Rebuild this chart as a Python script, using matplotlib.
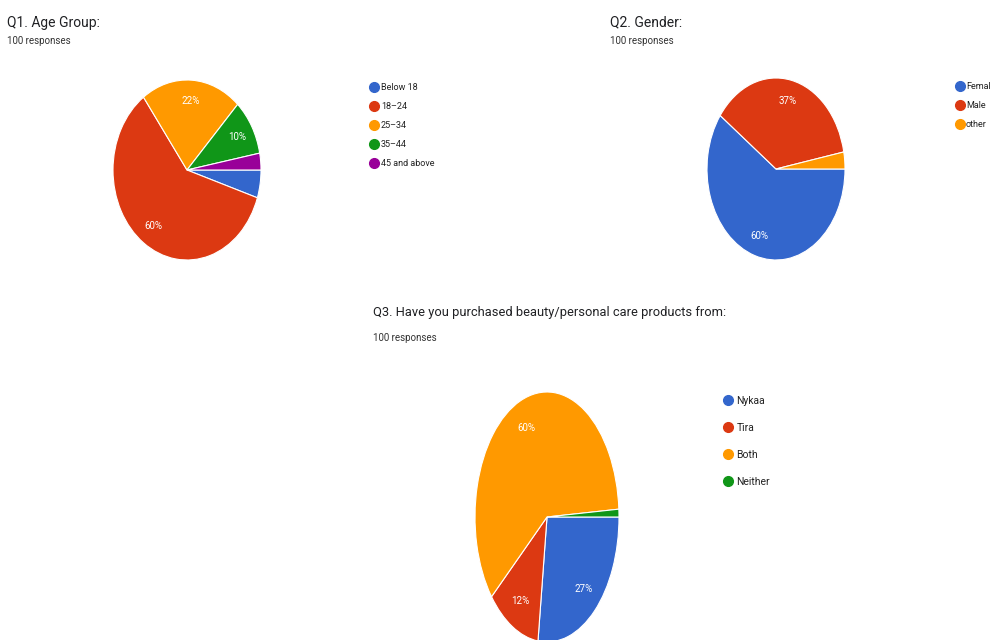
import matplotlib.pyplot as plt
from matplotlib.lines import Line2D

plt.rcParams['font.family'] = ['Roboto', 'DejaVu Sans']

# Q1
age_labels = ["Below 18", "18\u201324", "25\u201334", "35\u201344", "45 and above"]
age_values = [5, 60, 22, 10, 3]
age_colors = ["#3366CC", "#DC3912", "#FF9900", "#109618", "#990099"]

# Q2
gender_labels = ["Female", "Male", "other"]
gender_values = [60, 37, 3]
gender_colors = ["#3366CC", "#DC3912", "#FF9900"]

# Q3
store_labels = ["Nykaa", "Tira", "Both", "Neither"]
store_values = [27, 12, 60, 1]
store_colors = ["#3366CC", "#DC3912", "#FF9900", "#109618"]

W, H = 990, 640
fig = plt.figure(figsize=(W / 100, H / 100), dpi=100)
fig.patch.set_facecolor("white")


def pct_fmt(p):
    # google forms hides labels of tiny slices
    return "%d%%" % round(p) if p >= 8 else ""


def pie_at(cx, cy, rx, ry, values, colors):
    ax = fig.add_axes([(cx - rx) / W, 1 - (cy + ry) / H, 2 * rx / W, 2 * ry / H])
    wedges, texts, autotexts = ax.pie(values, colors=colors, startangle=0, counterclock=False,
                                      autopct=pct_fmt, pctdistance=0.77,
                                      wedgeprops=dict(edgecolor="white", linewidth=0.8),
                                      textprops=dict(color="white", fontsize=7))
    ax.set_aspect("auto")
    ax.set_xlim(-1, 1)
    ax.set_ylim(-1, 1)
    ax.axis("off")
    return ax


def legend_at(x, y, labels, colors, spacing, size, pad=0.4):
    handles = [Line2D([], [], marker="o", linestyle="none", markersize=7,
                      markerfacecolor=c, markeredgecolor=c) for c in colors]
    fig.legend(handles, labels, loc="upper left", bbox_to_anchor=(x / W, 1 - y / H),
               frameon=False, fontsize=size, labelspacing=spacing, handlelength=0.8,
               handletextpad=pad, borderpad=0, borderaxespad=0, labelcolor="#222222")


def heading(x, y, title, size, sub_y):
    fig.text(x / W, 1 - y / H, title, fontsize=size, color="#202124", va="baseline")
    fig.text(x / W, 1 - sub_y / H, "100 responses", fontsize=7, color="#333333", va="baseline")


heading(7, 27, "Q1. Age Group:", 10, 44)
pie_at(187, 170, 74, 90, age_values, age_colors)
legend_at(370, 83, age_labels, age_colors, 1.1, 6.5)

heading(610, 26, "Q2. Gender:", 10, 44)
pie_at(776, 169, 69, 91, gender_values, gender_colors)
legend_at(956, 82, gender_labels, gender_colors, 1.1, 6.5, 0.3)

heading(373, 316, "Q3. Have you purchased beauty/personal care products from:", 9.3, 341)
pie_at(547, 517, 72, 125, store_values, store_colors)
legend_at(724, 396, store_labels, store_colors, 1.63, 7.5)

fig.savefig("out.png", dpi=100, facecolor="white")
